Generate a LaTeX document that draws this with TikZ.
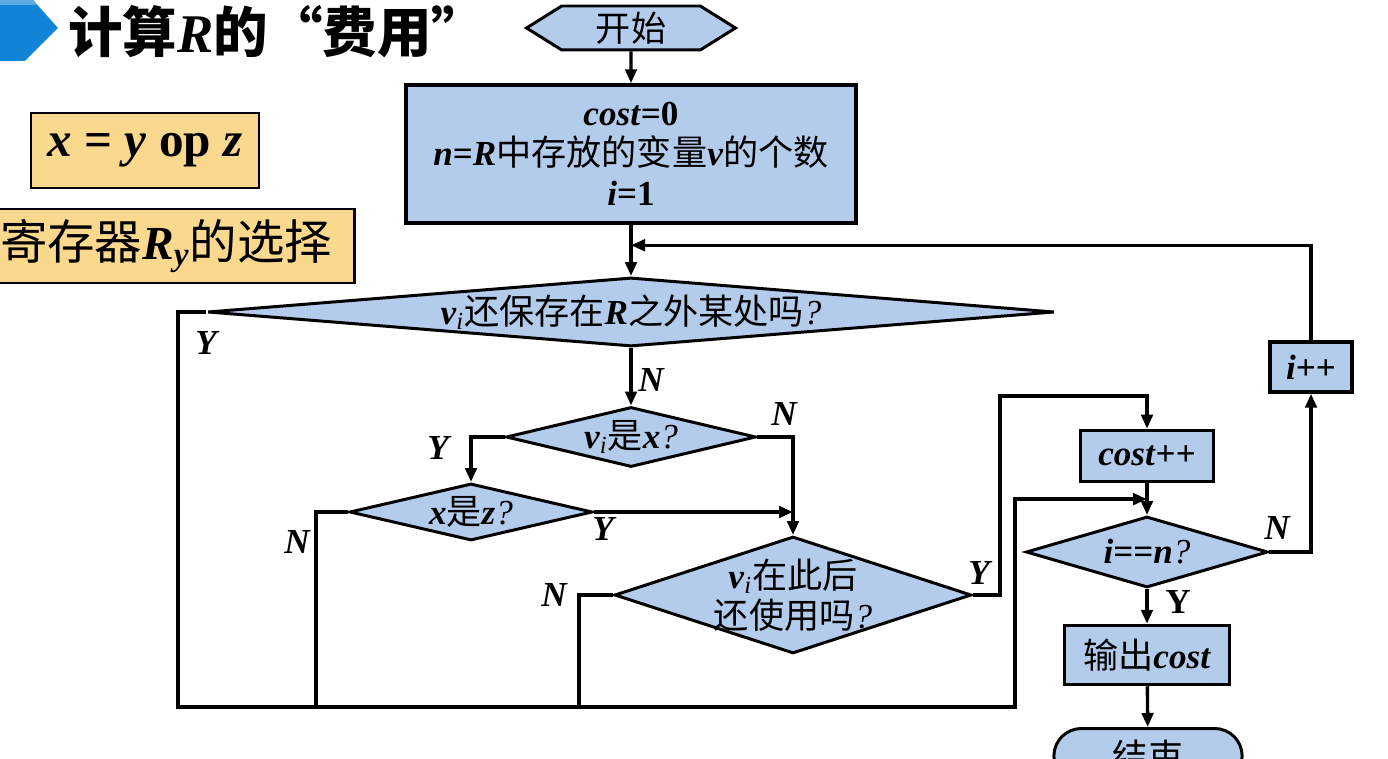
\documentclass[tikz,border=0pt]{standalone}
\usepackage{fontspec}
\setmainfont{Liberation Serif}
\newfontfamily\cjk{Noto Sans CJK SC}
\usetikzlibrary{shapes.geometric,shapes.symbols,shapes.misc,arrows.meta,calc}
\definecolor{flowblue}{RGB}{180,204,236}
\definecolor{noteyel}{RGB}{250,217,143}
\definecolor{titleblue}{RGB}{16,132,214}
\definecolor{titlelite}{RGB}{96,170,228}
\newcommand{\zh}[1]{{\cjk #1}}
\newcommand{\mvar}[1]{\textbf{\textit{#1}}}
\begin{document}
\begin{tikzpicture}[
    x=0.02cm, y=-0.02cm,
    font=\fontsize{20}{22.7}\selectfont,
    box/.style={draw, line width=2pt, fill=flowblue, inner sep=2pt, align=center},
    test/.style={diamond, draw, line width=1.7pt, fill=flowblue, inner sep=-2.5mm, align=center},
    startstop/.style={signal, signal to=east and west, signal pointer angle=64, draw,
                      line width=1.7pt, fill=flowblue, minimum width=4.18cm,
                      minimum height=0.88cm, inner sep=0pt},
    endnode/.style={rounded rectangle, draw, line width=1.7pt, fill=flowblue,
                    minimum width=4cm, minimum height=1.1cm},
    note/.style={draw, line width=1.4pt, fill=noteyel, inner sep=0pt},
    arr/.style={-{Triangle[length=2.8mm,width=2.3mm]}, line width=1.9pt},
    wire/.style={line width=1.9pt},
    lbl/.style={font=\fontsize{20}{22}\selectfont\bfseries\itshape, inner sep=0pt},
  ]
  \useasboundingbox (0,0) rectangle (1388,759);
  \clip (0,0) rectangle (1388,759);
  % title
  \fill[titleblue] (0,0) -- (33,0) -- (58,28) -- (25,61) -- (0,61) -- cycle;
  \fill[titlelite] (0,0) -- (33,0) -- (37,5) -- (0,5) -- cycle;
  \node[anchor=west, inner sep=0pt, font=\fontsize{31}{31}\selectfont] (title) at (68,32)
    {\zh{\bfseries 计算}\mvar{R}\zh{\bfseries 的“费用”}};
  % notes on the left
  \node[note, minimum width=4.56cm, minimum height=1.5cm, font=\fontsize{28}{28}\selectfont]
    (op) at (145,150.5) {\mvar{x} \textbf{=} \mvar{y} \textbf{op} \mvar{z}};
  \node[note, minimum width=7.54cm, minimum height=1.48cm, font=\fontsize{27}{27}\selectfont]
    (regy) at (166,246) {\zh{寄存器}\mvar{R}\textsubscript{\mvar{y}}\zh{的选择}};
  % flowchart
  \node[startstop] (start) at (631,28) {\zh{开始}};
  \node[box, minimum width=9cm, minimum height=2.76cm] (init) at (631,154)
    {\mvar{cost}\textbf{=0}\\ \mvar{n}\textbf{=}\mvar{R}\zh{中存放的变量}\mvar{v}\zh{的个数}\\ \mvar{i}\textbf{=1}};
  \node[test, aspect=12, minimum width=16.94cm, minimum height=1.38cm] (d1) at (631,312)
    {\mvar{v}\textsubscript{\textit{i}}\zh{还保存在}\mvar{R}\zh{之外某处吗}\textit{?}};
  \node[test, aspect=4, minimum width=5cm, minimum height=1.2cm] (d2) at (631,437)
    {\mvar{v}\textsubscript{\textit{i}}\zh{是}\mvar{x}\textit{?}};
  \node[test, aspect=4, minimum width=4.86cm, minimum height=1.14cm] (d3) at (471,512)
    {\mvar{x}\zh{是}\mvar{z}\textit{?}};
  \node[test, aspect=3, minimum width=7.14cm, minimum height=2.34cm] (d4) at (793,595)
    {\mvar{v}\textsubscript{\textit{i}}\zh{在此后}\\ \zh{还使用吗}\textit{?}};
  \node[box, minimum width=2.66cm, minimum height=1.02cm] (costpp) at (1147,456)
    {\mvar{cost}\textbf{++}};
  \node[test, aspect=3.4, minimum width=4.84cm, minimum height=1.42cm] (d5) at (1147,552)
    {\mvar{i}\textbf{==}\mvar{n}\textit{?}};
  \node[box, minimum width=1.64cm, minimum height=1cm] (ipp) at (1311,367) {\mvar{i}\textbf{++}};
  \node[box, minimum width=3.3cm, minimum height=1.18cm] (out) at (1147,655)
    {\zh{输出}\mvar{cost}};
  \node[endnode] (stop) at (1148,756) {\zh{结束}};
  % corner points of the connectors
  \coordinate (ybl) at (178,707);
  \coordinate (ybr) at (1015,707);
  \coordinate (n3) at (316,707);
  \coordinate (n4) at (579,707);
  \coordinate (yup) at (1000,396);
  \coordinate (join) at ($(costpp.south)!.5!(d5.north)$);
  \coordinate (back) at ($(init.south)!.4!(d1.north)$);
  % connectors
  \draw[arr] (start) -- (init);
  \draw[arr] (init) -- (d1);
  \draw[arr] (d1) -- (d2);
  \draw[arr] (d1.west) -| (ybl) -- (ybr) |- (join);
  \draw[arr] (d2.west) -| (d3.north);
  \draw[arr] (d2.east) -| (d4.north);
  \draw[arr] (d3.east) -- (d3.east -| d4.north);
  \draw[wire] (d3.west) -| (n3);
  \draw[wire] (d4.west) -| (n4);
  \draw[arr] (d4.east) -| (yup) -| (costpp.north);
  \draw[arr] (costpp) -- (d5);
  \draw[arr] (d5.east) -| (ipp.south);
  \draw[arr] (ipp.north) |- (back);
  \draw[arr] (d5) -- (out);
  \draw[arr] (out) -- (stop);
  % branch labels
  \node[lbl] (y1) at (206,343) {Y};
  \node[lbl] (n1) at (651,380) {N};
  \node[lbl] (y2) at (438,448) {Y};
  \node[lbl] (n2) at (784,414) {N};
  \node[lbl] (y3) at (603,529) {Y};
  \node[lbl] (n3l) at (297,542) {N};
  \node[lbl] (y4) at (979,573) {Y};
  \node[lbl] (n4l) at (554,595) {N};
  \node[lbl] (n5) at (1277,528) {N};
  \node[lbl, font=\fontsize{20}{22}\selectfont\bfseries] (y5) at (1178,602) {Y};
\end{tikzpicture}
\end{document}
